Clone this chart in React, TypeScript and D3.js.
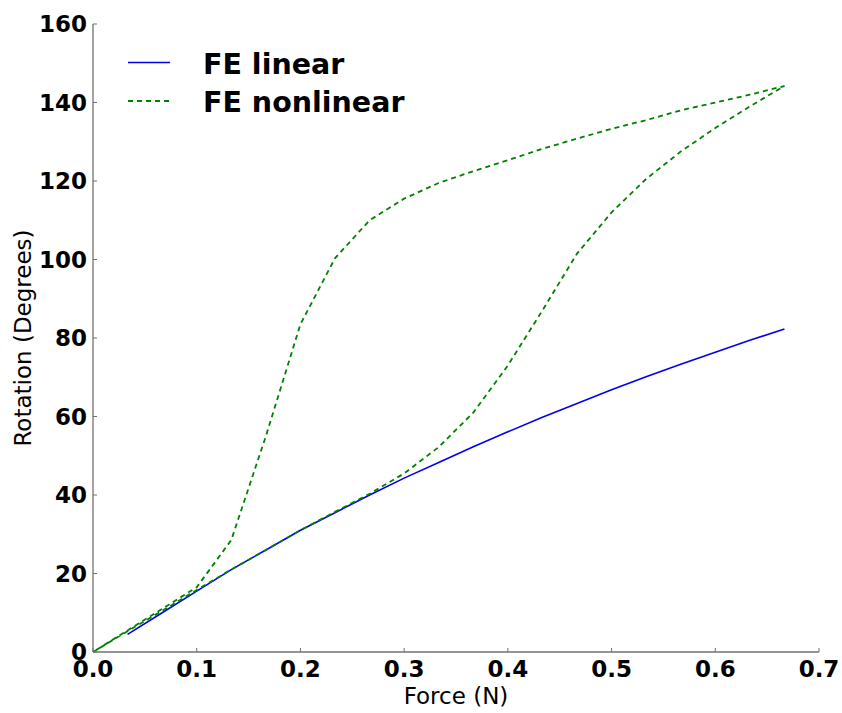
import React from "react";
import * as d3 from "d3";

const linearForce = [0.0333, 0.0667, 0.1, 0.1333, 0.1667, 0.2, 0.2333, 0.2667, 0.3, 0.3333, 0.3667, 0.4, 0.4333, 0.4667, 0.5, 0.5333, 0.5667, 0.6, 0.6333, 0.6667];
const linearRotation = [4.5, 10, 15.5, 21, 26, 31, 35.5, 40, 44.3, 48.3, 52.3, 56.1, 59.8, 63.3, 66.8, 70.1, 73.3, 76.4, 79.4, 82.3];

// nonlinear: lower branch out, upper branch back
const nonlinearForce = [0, 0.0333, 0.0667, 0.1, 0.1333, 0.1667, 0.2, 0.2333, 0.2667, 0.3, 0.3333, 0.3667, 0.4, 0.4333, 0.4667, 0.5, 0.5333, 0.5667, 0.6, 0.6333, 0.6667,
  0.6333, 0.6, 0.5667, 0.5333, 0.5, 0.4667, 0.4333, 0.4, 0.3667, 0.3333, 0.3, 0.2667, 0.2333, 0.2, 0.1667, 0.1333, 0.1, 0.0667, 0.0333, 0];
const nonlinearRotation = [0, 5.3, 10.5, 15.8, 21, 26, 31, 35.7, 40.3, 45.5, 52.2, 61, 73, 87, 101.5, 112, 120.5, 127.5, 133.5, 139, 144.2,
  142, 140, 138, 135.5, 133.3, 130.8, 128.2, 125.3, 122.5, 119.5, 115.5, 110, 100.3, 83.5, 55, 28.5, 16.5, 11, 5.5, 0];

const xTicks = [0, 0.1, 0.2, 0.3, 0.4, 0.5, 0.6, 0.7];
const yTicks = [0, 20, 40, 60, 80, 100, 120, 140, 160];

const seriesNames = ["FE linear", "FE nonlinear"];
const seriesColors = ["#0000ee", "#008000"];

export default function App() {
  const W = 842, H = 713;
  const left = 93, right = 819, top = 24, bottom = 652;
  const x = d3.scaleLinear().domain([0, 0.7]).range([left, right]);
  const y = d3.scaleLinear().domain([0, 160]).range([bottom, top]);
  const line = d3.line<[number, number]>().x(d => x(d[0])).y(d => y(d[1]));
  const linData: [number, number][] = linearForce.map((f, i) => [f, linearRotation[i]]);
  const nlData: [number, number][] = nonlinearForce.map((f, i) => [f, nonlinearRotation[i]]);
  const font = "'DejaVu Sans', sans-serif";
  const axisColor = "#707070";
  const fmt = d3.format(".1f");
  return (
    <svg width={W} height={H} style={{ position: "absolute", left: 0, top: 0, background: "#fff" }} fontFamily={font}>
      <path d={line(linData) || ""} fill="none" stroke={seriesColors[0]} strokeWidth={1.6} />
      <path d={line(nlData) || ""} fill="none" stroke={seriesColors[1]} strokeWidth={1.8} strokeDasharray="5,4" />
      {/* spines */}
      <line x1={left} x2={left} y1={top} y2={bottom} stroke={axisColor} strokeWidth={1.3} />
      <line x1={left} x2={right} y1={bottom} y2={bottom} stroke={axisColor} strokeWidth={1.3} />
      {xTicks.map(t => (
        <g key={"x" + t}>
          <line x1={x(t)} x2={x(t)} y1={bottom} y2={bottom - 4} stroke={axisColor} strokeWidth={1} />
          <text x={x(t)} y={bottom + 8} textAnchor="middle" dominantBaseline="hanging" fontSize={23} fontWeight="bold" fill="#000">{fmt(t)}</text>
        </g>
      ))}
      {yTicks.map(t => (
        <g key={"y" + t}>
          <line x1={left} x2={left + 4} y1={y(t)} y2={y(t)} stroke={axisColor} strokeWidth={1} />
          <text x={left - 6} y={y(t)} textAnchor="end" dominantBaseline="central" fontSize={23} fontWeight="bold" fill="#000">{t}</text>
        </g>
      ))}
      <text x={(left + right) / 2} y={704} textAnchor="middle" fontSize={23} fill="#000">Force (N)</text>
      <text transform={`translate(31, ${(top + bottom) / 2}) rotate(-90)`} textAnchor="middle" fontSize={23} fill="#000">Rotation (Degrees)</text>
      {/* legend */}
      {seriesNames.map((n, i) => (
        <g key={n}>
          <line x1={128} x2={170} y1={62.5 + i * 38.5} y2={62.5 + i * 38.5} stroke={seriesColors[i]} strokeWidth={i ? 1.8 : 1.6} strokeDasharray={i ? "5,4" : undefined} />
          <text x={203} y={64 + i * 38.5} dominantBaseline="central" fontSize={28.5} fontWeight="bold" fill="#000">{n}</text>
        </g>
      ))}
    </svg>
  );
}
